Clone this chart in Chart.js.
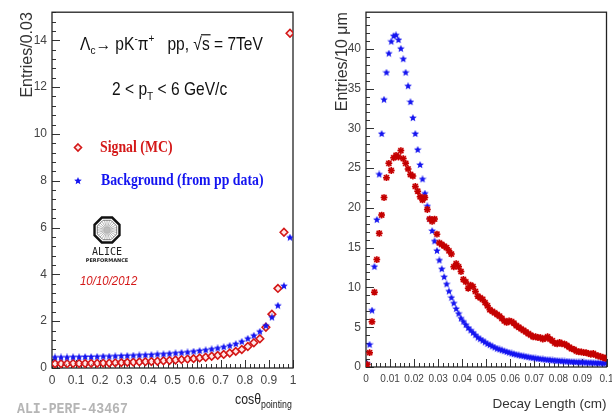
<!DOCTYPE html>
<html>
<head>
<meta charset="utf-8">
<script src="https://cdn.jsdelivr.net/npm/chart.js@4.4.0/dist/chart.umd.min.js"></script>
<style>
html, body { margin: 0; padding: 0; background: #fff; }
#wrap { position: relative; width: 612px; height: 416px; overflow: hidden; }
#wrap canvas { position: absolute; top: 0; }
#cosChart { left: 0; }
#lenChart { left: 306px; }
</style>
</head>
<body>
<div id="wrap">
  <canvas id="cosChart" width="306" height="416"></canvas>
  <canvas id="lenChart" width="306" height="416"></canvas>
</div>
<script>
// cos(theta_pointing): 40 bins from 0 to 1
const cosBinWidth = 0.025;
const cosSignal = [
  0.18, 0.18, 0.18, 0.19, 0.19, 0.19, 0.20, 0.20, 0.21, 0.21,
  0.22, 0.23, 0.24, 0.25, 0.26, 0.27, 0.28, 0.29, 0.31, 0.32,
  0.34, 0.36, 0.38, 0.40, 0.43, 0.46, 0.50, 0.54, 0.58, 0.64,
  0.71, 0.79, 0.92, 1.08, 1.25, 1.74, 2.30, 3.40, 5.80, 14.30
];
const cosBackground = [
  0.45, 0.45, 0.45, 0.46, 0.46, 0.47, 0.47, 0.48, 0.49, 0.49,
  0.50, 0.51, 0.52, 0.53, 0.54, 0.55, 0.56, 0.58, 0.59, 0.61,
  0.63, 0.65, 0.67, 0.70, 0.73, 0.76, 0.80, 0.84, 0.89, 0.95,
  1.02, 1.12, 1.25, 1.38, 1.55, 1.80, 2.16, 2.66, 3.50, 5.57
];
const cosXTicks = [0, 0.1, 0.2, 0.3, 0.4, 0.5, 0.6, 0.7, 0.8, 0.9, 1];
const cosYTicks = [0, 2, 4, 6, 8, 10, 12, 14];

// decay length: 100 bins of 10 um from 0 to 0.1 cm
const lenBinWidth = 0.001;
const lenSignal = [
  0.3, 1.8, 5.7, 9.4, 13.5, 16.8, 19.1, 21.3, 23.8, 25.6,
  24.7, 26.3, 26.6, 26.4, 27.2, 26.2, 25.6, 24.9, 24.2, 24.0,
  22.7, 22.1, 21.4, 21.0, 21.3, 19.8, 18.6, 18.3, 18.6, 16.7,
  15.6, 15.4, 15.2, 15.0, 14.6, 14.2, 12.6, 13.0, 12.6, 12.0,
  11.0, 10.7, 9.9, 10.3, 10.1, 9.5, 8.9, 8.7, 8.5, 8.1,
  7.7, 7.2, 7.0, 6.8, 6.6, 6.4, 6.1, 5.8, 5.6, 5.8,
  5.7, 5.5, 5.2, 5.0, 4.8, 4.6, 4.4, 4.2, 4.0, 3.8,
  3.8, 3.7, 3.7, 3.5, 3.6, 3.8, 3.5, 3.3, 3.0, 2.9,
  3.1, 2.9, 2.9, 2.7, 2.5, 2.3, 2.2, 2.0, 1.9, 1.9,
  1.8, 1.8, 1.7, 1.6, 1.7, 1.5, 1.4, 1.3, 1.2, 1.1
];
const lenBackground = [
  0.4, 2.8, 7.1, 12.6, 18.5, 24.2, 29.3, 33.6, 37.0, 39.4,
  40.9, 41.6, 41.7, 41.1, 40.0, 38.7, 37.0, 35.3, 33.3, 31.3,
  29.3, 27.3, 25.4, 23.6, 21.8, 20.2, 18.6, 17.1, 15.8, 14.6,
  13.4, 12.3, 11.3, 10.4, 9.5, 8.7, 8.0, 7.3, 6.7, 6.1,
  5.7, 5.3, 4.9, 4.6, 4.3, 4.0, 3.7, 3.5, 3.3, 3.1,
  2.9, 2.75, 2.6, 2.45, 2.3, 2.2, 2.1, 2.0, 1.9, 1.8,
  1.7, 1.62, 1.55, 1.48, 1.42, 1.36, 1.3, 1.24, 1.19, 1.14,
  1.09, 1.05, 1.0, 0.97, 0.93, 0.9, 0.87, 0.84, 0.81, 0.78,
  0.76, 0.73, 0.71, 0.69, 0.67, 0.65, 0.63, 0.61, 0.6, 0.58,
  0.57, 0.55, 0.54, 0.53, 0.52, 0.5, 0.49, 0.48, 0.47, 0.46
];
const lenXTicks = [0, 0.01, 0.02, 0.03, 0.04, 0.05, 0.06, 0.07, 0.08, 0.09, 0.1];
const lenYTicks = [0, 5, 10, 15, 20, 25, 30, 35, 40];

const RED = '#d41818';
const BLUE = '#1414f0';
const SANS = '"Liberation Sans", Arial, sans-serif';
const SERIF = '"Liberation Serif", "Times New Roman", serif';
const SX = 0.88; // horizontal squeeze for the annotation text

function toPoints(values, width) {
  return values.map((v, i) => ({ x: (i + 0.5) * width, y: v }));
}

// filled five-point star used as a point style
function starImage(size, color) {
  const c = document.createElement('canvas');
  c.width = c.height = size;
  const g = c.getContext('2d');
  const r = size / 2, ri = r * 0.45;
  g.beginPath();
  for (let k = 0; k < 10; k++) {
    const a = -Math.PI / 2 + k * Math.PI / 5;
    const rr = k % 2 ? ri : r;
    g.lineTo(r + rr * Math.cos(a), r + rr * Math.sin(a));
  }
  g.closePath();
  g.fillStyle = color;
  g.fill();
  return c;
}
const blueStar = starImage(8, BLUE);

function drawRuns(ctx, x, y, runs, base) {
  for (const r of runs) {
    const size = r.size || base.size;
    ctx.save();
    ctx.font = [r.style || base.style, r.weight || base.weight, size + 'px', r.family || base.family]
      .filter(Boolean).join(' ');
    ctx.fillStyle = r.color || base.color;
    ctx.textAlign = 'left';
    ctx.textBaseline = 'alphabetic';
    ctx.translate(x, y + (r.dy || 0));
    ctx.scale(SX, 1);
    ctx.fillText(r.t, 0, 0);
    const w = ctx.measureText(r.t).width;
    if (r.bar) {
      ctx.strokeStyle = ctx.fillStyle;
      ctx.lineWidth = 1.2;
      ctx.beginPath();
      ctx.moveTo(-1, -size * 0.86);
      ctx.lineTo(w + 1, -size * 0.86);
      ctx.stroke();
    }
    ctx.restore();
    x += w * SX + (r.gap || 0);
  }
  return x;
}

// ROOT-style frame with ticks drawn inside the pad
const frameTicks = {
  id: 'frameTicks',
  beforeDatasetsDraw(chart, args, o) {
    const { ctx, chartArea: a } = chart;
    const xs = chart.scales.x, ys = chart.scales.y;
    const isMajor = (v, step) => Math.abs(v / step - Math.round(v / step)) < 1e-6;
    ctx.save();
    ctx.strokeStyle = '#333';
    ctx.lineWidth = 1;
    ctx.beginPath();
    for (let i = 0; i * o.xMinor <= xs.max + 1e-9; i++) {
      const v = i * o.xMinor;
      const px = Math.round(xs.getPixelForValue(v)) + 0.5;
      const len = isMajor(v, o.xMajor) ? o.majorLen : o.minorLen;
      ctx.moveTo(px, a.bottom);
      ctx.lineTo(px, a.bottom - len);
    }
    for (let i = 0; i * o.yMinor <= ys.max + 1e-9; i++) {
      const v = i * o.yMinor;
      const py = Math.round(ys.getPixelForValue(v)) + 0.5;
      const len = isMajor(v, o.yMajor) ? o.majorLen : o.minorLen;
      ctx.moveTo(a.left, py);
      ctx.lineTo(a.left + len, py);
    }
    ctx.stroke();
    ctx.lineWidth = 1.3;
    ctx.strokeStyle = '#222';
    ctx.strokeRect(a.left, a.top, a.width, a.height);
    ctx.restore();
  }
};

function drawAliceLogo(ctx, cx, cy) {
  ctx.save();
  const oct = (r) => {
    ctx.beginPath();
    for (let k = 0; k < 8; k++) {
      const a = Math.PI / 8 + k * Math.PI / 4;
      ctx.lineTo(cx + r * Math.cos(a), cy + r * Math.sin(a));
    }
    ctx.closePath();
  };
  ctx.strokeStyle = '#999';
  ctx.lineWidth = 0.7;
  ctx.beginPath();
  for (let k = 0; k < 24; k++) {
    const a = k * Math.PI / 12;
    ctx.moveTo(cx + 2 * Math.cos(a), cy + 2 * Math.sin(a));
    ctx.lineTo(cx + 10 * Math.cos(a), cy + 10 * Math.sin(a));
  }
  ctx.stroke();
  ctx.fillStyle = '#bbb';
  ctx.beginPath();
  ctx.arc(cx, cy, 2.5, 0, Math.PI * 2);
  ctx.fill();
  ctx.strokeStyle = '#666';
  ctx.lineWidth = 0.8;
  oct(10.5);
  ctx.stroke();
  ctx.strokeStyle = '#111';
  ctx.lineWidth = 2.4;
  oct(13.5);
  ctx.stroke();
  ctx.fillStyle = '#222';
  ctx.textAlign = 'center';
  ctx.font = '10px "DejaVu Sans Mono", monospace';
  ctx.fillText('ALICE', cx, cy + 25);
  ctx.font = 'bold 5px "DejaVu Sans", sans-serif';
  ctx.fillText('PERFORMANCE', cx, cy + 32);
  ctx.restore();
}

const cosNotes = {
  id: 'cosNotes',
  afterDraw(chart) {
    const ctx = chart.ctx;
    const head = { size: 17.7, family: SANS, color: '#111' };
    drawRuns(ctx, 80, 50, [
      { t: '\u039B' }, { t: 'c', size: 11.5, dy: 4 }, { t: '\u2192 pK' },
      { t: '-', size: 11.5, dy: -8 }, { t: '\u03C0' }, { t: '+', size: 11.5, dy: -8 },
      { t: '   pp, ' }, { t: '\u221A' }, { t: 's', bar: true }, { t: ' = 7TeV' }
    ], head);
    drawRuns(ctx, 112, 95, [
      { t: '2 < p' }, { t: 'T', size: 11.5, dy: 5 }, { t: ' < 6 GeV/c' }
    ], head);

    // legend entries
    ctx.save();
    ctx.strokeStyle = RED;
    ctx.lineWidth = 1.6;
    ctx.fillStyle = 'rgba(255,210,210,0.5)';
    ctx.beginPath();
    ctx.moveTo(78, 144); ctx.lineTo(81.5, 147.5); ctx.lineTo(78, 151); ctx.lineTo(74.5, 147.5);
    ctx.closePath();
    ctx.fill();
    ctx.stroke();
    ctx.drawImage(blueStar, 74, 177);
    ctx.restore();
    const leg = { size: 15.7, family: SERIF, weight: 'bold' };
    drawRuns(ctx, 100, 152, [{ t: 'Signal (MC)', color: RED }], leg);
    drawRuns(ctx, 101, 185, [{ t: 'Background (from pp data)', color: BLUE }], leg);

    drawAliceLogo(ctx, 107, 230);
    drawRuns(ctx, 80, 285, [{ t: '10/10/2012' }],
      { size: 13, family: SANS, style: 'italic', color: RED });

    // axis title with subscript
    drawRuns(ctx, 235, 404, [
      { t: 'cos\u03B8', size: 14 }, { t: 'pointing', size: 10, dy: 4 }
    ], { size: 14, family: SANS, color: '#222' });

    drawRuns(ctx, 17, 413, [{ t: 'ALI-PERF-43467' }],
      { size: 15, family: '"Liberation Mono", "Courier New", monospace', weight: 'bold', color: '#b5b5b5' });
  }
};

// keep the frame where it is even when edge tick labels stick out
function fixXAxis(height) {
  return (s) => { s.height = height; s.paddingLeft = 0; s.paddingRight = 0; };
}

new Chart(document.getElementById('cosChart'), {
  type: 'scatter',
  data: {
    datasets: [
      {
        label: 'Background (from pp data)',
        data: toPoints(cosBackground, cosBinWidth),
        pointStyle: blueStar,
        pointRadius: 4
      },
      {
        label: 'Signal (MC)',
        data: toPoints(cosSignal, cosBinWidth),
        pointStyle: 'rectRot',
        pointRadius: 3.8,
        borderColor: RED,
        borderWidth: 1.6,
        backgroundColor: 'rgba(255,210,210,0.5)'
      }
    ]
  },
  options: {
    responsive: false,
    animation: false,
    devicePixelRatio: 1,
    layout: { padding: { top: 8, right: 13, left: 0, bottom: 0 } },
    plugins: {
      legend: { display: false },
      tooltip: { enabled: false },
      frameTicks: { xMajor: 0.1, xMinor: 0.02, yMajor: 2, yMinor: 0.4, majorLen: 8, minorLen: 4 }
    },
    scales: {
      x: {
        type: 'linear', min: 0, max: 1,
        afterFit: fixXAxis(48),
        afterBuildTicks: (s) => { s.ticks = cosXTicks.map(v => ({ value: v })); },
        grid: { display: false, drawTicks: false },
        border: { display: false },
        ticks: { padding: 5, color: '#444', font: { size: 12, family: SANS }, maxRotation: 0, autoSkip: false,
                 callback: (v) => String(+v.toFixed(2)) }
      },
      y: {
        min: 0, max: 15.2,
        afterFit: (s) => { s.width = 52; },
        afterBuildTicks: (s) => { s.ticks = cosYTicks.map(v => ({ value: v })); },
        grid: { display: false, drawTicks: false },
        border: { display: false },
        ticks: { padding: 5, color: '#444', font: { size: 12, family: SANS } },
        title: { display: true, text: 'Entries/0.03', align: 'end', color: '#333',
                 font: { size: 16, family: SANS }, padding: { top: 18 } }
      }
    }
  },
  plugins: [frameTicks, cosNotes]
});

new Chart(document.getElementById('lenChart'), {
  type: 'scatter',
  data: {
    datasets: [
      {
        label: 'Signal (MC) marker',
        data: toPoints(lenSignal, lenBinWidth),
        pointStyle: 'star',
        pointRadius: 3.4,
        borderColor: '#c40000',
        borderWidth: 1.5,
        order: 1
      },
      {
        label: 'Signal (MC)',
        data: toPoints(lenSignal, lenBinWidth),
        pointStyle: 'rect',
        pointRadius: 4.3,
        borderWidth: 0,
        backgroundColor: 'rgba(225,60,60,0.45)',
        order: 2
      },
      {
        label: 'Background (from pp data)',
        data: toPoints(lenBackground, lenBinWidth),
        pointStyle: blueStar,
        pointRadius: 4,
        order: 3
      }
    ]
  },
  options: {
    responsive: false,
    animation: false,
    devicePixelRatio: 1,
    layout: { padding: { top: 8, right: 5, left: 0, bottom: 0 } },
    plugins: {
      legend: { display: false },
      tooltip: { enabled: false },
      frameTicks: { xMajor: 0.01, xMinor: 0.002, yMajor: 5, yMinor: 1, majorLen: 8, minorLen: 4 }
    },
    scales: {
      x: {
        type: 'linear', min: 0, max: 0.1,
        afterFit: fixXAxis(49),
        afterBuildTicks: (s) => { s.ticks = lenXTicks.map(v => ({ value: v })); },
        grid: { display: false, drawTicks: false },
        border: { display: false },
        ticks: { padding: 6, color: '#444', font: { size: 10, family: SANS }, maxRotation: 0, autoSkip: false,
                 callback: (v) => String(+v.toFixed(3)) },
        title: { display: true, text: 'Decay Length (cm)', align: 'end', color: '#333',
                 font: { size: 13.5, family: SANS }, padding: { bottom: 4 } }
      },
      y: {
        min: 0, max: 44.6,
        afterFit: (s) => { s.width = 60; },
        afterBuildTicks: (s) => { s.ticks = lenYTicks.map(v => ({ value: v })); },
        grid: { display: false, drawTicks: false },
        border: { display: false },
        ticks: { padding: 5, color: '#444', font: { size: 12, family: SANS } },
        title: { display: true, text: 'Entries/10 \u03BCm', align: 'end', color: '#333',
                 font: { size: 16, family: SANS }, padding: { top: 27 } }
      }
    }
  },
  plugins: [frameTicks]
});
</script>
</body>
</html>
